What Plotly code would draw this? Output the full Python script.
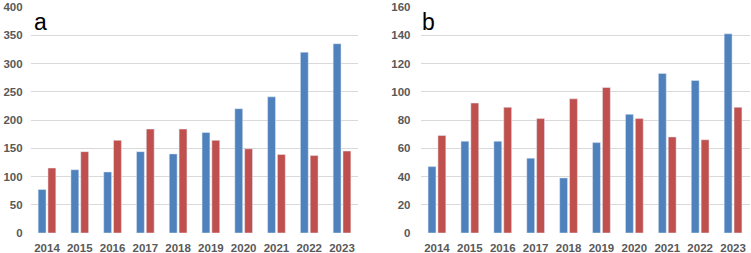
import plotly.graph_objects as go

years = ["2014", "2015", "2016", "2017", "2018", "2019", "2020", "2021", "2022", "2023"]
a_blue = [77, 112, 108, 144, 140, 178, 220, 241, 320, 335]
a_red = [115, 144, 164, 184, 184, 164, 149, 139, 137, 145]
b_blue = [47, 65, 65, 53, 39, 64, 84, 113, 108, 141]
b_red = [69, 92, 89, 81, 95, 103, 81, 68, 66, 89]
a_ticks = [0, 50, 100, 150, 200, 250, 300, 350, 400]
b_ticks = [0, 20, 40, 60, 80, 100, 120, 140, 160]

BLUE = "#4F81BD"
RED = "#C0504D"
W, H = 751, 253

fig = go.Figure()
fig.add_bar(x=years, y=a_blue, marker_color=BLUE, xaxis="x", yaxis="y", showlegend=False)
fig.add_bar(x=years, y=a_red, marker_color=RED, xaxis="x", yaxis="y", showlegend=False)
fig.add_bar(x=years, y=b_blue, marker_color=BLUE, xaxis="x2", yaxis="y2", showlegend=False)
fig.add_bar(x=years, y=b_red, marker_color=RED, xaxis="x2", yaxis="y2", showlegend=False)

tickfont = dict(family="Liberation Sans, Arial", size=11.5, color="#595959", weight="bold")
grid = "#D9D9D9"

xcommon = dict(showgrid=False, showline=False, ticks="", tickfont=tickfont, type="category",
               ticklabelstandoff=6)
ycommon = dict(showgrid=True, gridcolor=grid, gridwidth=1, zeroline=False, showline=False,
               ticks="", tickfont=tickfont, tickmode="array")

fig.update_layout(
    width=W, height=H,
    margin=dict(l=0, r=0, t=7, b=20),
    paper_bgcolor="white", plot_bgcolor="white",
    barmode="group", bargap=0.40, bargroupgap=0.2,
    xaxis=dict(domain=[30.6 / W, 358.4 / W], anchor="y", **xcommon),
    yaxis=dict(domain=[0, 1], anchor="x", range=[0, 400], tickvals=a_ticks,
               ticklabelstandoff=7, **ycommon),
    xaxis2=dict(domain=[420.5 / W, 749.5 / W], anchor="y2", **xcommon),
    yaxis2=dict(domain=[0, 1], anchor="x2", range=[0, 160], tickvals=b_ticks,
                ticklabelstandoff=9, **ycommon),
    annotations=[
        dict(text="a", xref="paper", yref="paper", x=32 / W, y=1.0, xanchor="left", yanchor="top",
             showarrow=False, font=dict(family="Liberation Sans, Arial", size=23, color="black")),
        dict(text="b", xref="paper", yref="paper", x=420 / W, y=1.0, xanchor="left", yanchor="top",
             showarrow=False, font=dict(family="Liberation Sans, Arial", size=23, color="black")),
    ],
)

fig.write_html("out.html")
